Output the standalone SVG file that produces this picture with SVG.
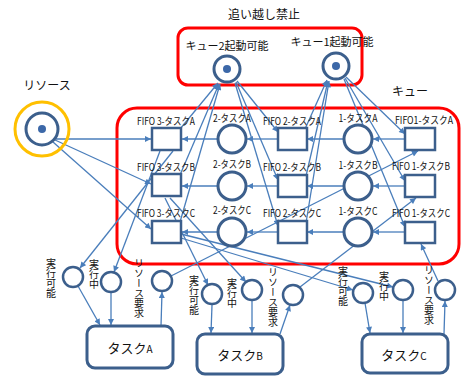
<svg xmlns="http://www.w3.org/2000/svg" width="461" height="376" viewBox="0 0 461 376">
<defs>
<marker id="ah" viewBox="0 0 10 10" refX="10" refY="5" markerWidth="7" markerHeight="6" orient="auto" markerUnits="userSpaceOnUse"><path d="M0,0 L10,5 L0,10 z" fill="#4A7EBB"/></marker>
<style>
.t{font-family:"Noto Sans CJK JP","Noto Sans",sans-serif;fill:#111;}
.lbl{font-size:10px;text-anchor:middle;}
.v{font-size:10px;writing-mode:vertical-rl;}
.box{fill:#fff;stroke:#3C5F8C;stroke-width:2.5;}
.pl{fill:#fff;stroke:#3C5F8C;stroke-width:3;}
.sp{fill:#fff;stroke:#3C5F8C;stroke-width:2.5;}
.task{fill:#fff;stroke:#3C5F8C;stroke-width:3;}
.dot{fill:#3C68A8;}
.red{fill:none;stroke:#FF0000;stroke-width:3;}
.c{fill:none;stroke:#4A7EBB;stroke-width:1.3;marker-end:url(#ah);}
.cn{fill:none;stroke:#4A7EBB;stroke-width:1.3;}
</style>
</defs>
<rect width="461" height="376" fill="#fff"/>

<g id="frames">
<rect class="red" x="178" y="28" width="184" height="57" rx="10"/>
<text class="t" x="264" y="19" font-size="12" text-anchor="middle">追い越し禁止</text>
<rect class="red" x="117" y="108" width="342" height="156" rx="20"/>
<text class="t" x="410" y="96" font-size="12" text-anchor="middle">キュー</text>
</g>

<g id="connectors">
<!-- row flows -->
<line class="c" x1="405" y1="139" x2="373" y2="139"/>
<line class="c" x1="343" y1="139" x2="307" y2="139"/>
<line class="c" x1="278" y1="139" x2="247" y2="139"/>
<line class="c" x1="217" y1="139" x2="182" y2="139"/>
<line class="c" x1="405" y1="186" x2="373" y2="186"/>
<line class="c" x1="343" y1="186" x2="307" y2="186"/>
<line class="c" x1="278" y1="186" x2="247" y2="186"/>
<line class="c" x1="217" y1="186" x2="182" y2="186"/>
<line class="c" x1="405" y1="232" x2="373" y2="232"/>
<line class="c" x1="343" y1="232" x2="307" y2="232"/>
<line class="c" x1="278" y1="232" x2="247" y2="232"/>
<line class="c" x1="217" y1="232" x2="182" y2="232"/>
<!-- resource -->
<line class="c" x1="56" y1="139" x2="151" y2="139"/>
<line class="c" x1="55" y1="140" x2="151" y2="184"/>
<line class="c" x1="53" y1="142" x2="151" y2="229"/>
<!-- queue2 -->
<line class="c" x1="180" y1="129" x2="218" y2="83"/>
<line class="c" x1="180" y1="175" x2="219" y2="84"/>
<line class="c" x1="180" y1="222" x2="220" y2="84"/>
<line class="c" x1="237" y1="81" x2="278" y2="132"/>
<line class="c" x1="236" y1="82" x2="278" y2="180"/>
<line class="c" x1="235" y1="83" x2="278" y2="226"/>
<!-- queue1 -->
<line class="c" x1="305" y1="129" x2="327" y2="80"/>
<line class="c" x1="306" y1="176" x2="328" y2="81"/>
<line class="c" x1="306" y1="223" x2="329" y2="81"/>
<line class="c" x1="346" y1="77" x2="405" y2="134"/>
<line class="c" x1="345" y1="78" x2="405" y2="181"/>
<line class="c" x1="344" y1="79" x2="405" y2="227"/>
<!-- FIFO3 to tasks -->
<line class="c" x1="173" y1="151" x2="80" y2="268"/>
<line class="c" x1="160" y1="151" x2="114" y2="272"/>
<line class="c" x1="165" y1="198" x2="208" y2="285"/>
<line class="c" x1="170" y1="198" x2="246" y2="282"/>
<line class="c" x1="181" y1="238" x2="353" y2="290"/>
<line class="c" x1="181" y1="234" x2="393" y2="287"/>
<!-- task A -->
<line class="c" x1="78" y1="286" x2="100" y2="325"/>
<line class="c" x1="111" y1="292" x2="111" y2="325"/>
<line class="c" x1="161" y1="326" x2="162" y2="292"/>
<line class="c" x1="171" y1="276" x2="418" y2="151"/>
<!-- task B -->
<line class="c" x1="212" y1="305" x2="211" y2="333"/>
<line class="c" x1="252" y1="300" x2="252" y2="333"/>
<line class="c" x1="280" y1="334" x2="290" y2="305"/>
<line class="c" x1="300" y1="287" x2="416" y2="198"/>
<!-- task C -->
<line class="c" x1="365" y1="303" x2="370" y2="333"/>
<line class="c" x1="403" y1="300" x2="403" y2="333"/>
<line class="c" x1="444" y1="334" x2="445" y2="301"/>
<line class="c" x1="438" y1="281" x2="421" y2="244"/>
</g>

<g id="queue2">
<circle class="pl" cx="227" cy="69" r="13"/>
<circle class="dot" cx="227" cy="69" r="4"/>
<text class="t" x="227" y="50" font-size="11" text-anchor="middle">キュー2起動可能</text>
</g>
<g id="queue1">
<circle class="pl" cx="336" cy="66" r="13"/>
<circle class="dot" cx="336" cy="66" r="4"/>
<text class="t" x="332" y="46" font-size="11" text-anchor="middle">キュー1起動可能</text>
</g>
<g id="resource">
<circle cx="42" cy="129" r="27" fill="none" stroke="#FFC000" stroke-width="3"/>
<circle class="pl" cx="42" cy="129" r="16"/>
<circle class="dot" cx="42" cy="129" r="4"/>
<text class="t" x="47" y="90" font-size="12" text-anchor="middle">リソース</text>
</g>

<g id="fifo3-A"><rect class="box" x="152" y="128" width="29" height="22"/><text class="t lbl" x="166" y="125" textLength="58" lengthAdjust="spacingAndGlyphs">FIFO 3-タスクA</text></g>
<g id="fifo3-B"><rect class="box" x="152" y="174" width="29" height="22"/><text class="t lbl" x="166" y="171" textLength="58" lengthAdjust="spacingAndGlyphs">FIFO 3-タスクB</text></g>
<g id="fifo3-C"><rect class="box" x="152" y="221" width="29" height="22"/><text class="t lbl" x="166" y="217" textLength="58" lengthAdjust="spacingAndGlyphs">FIFO 3-タスクC</text></g>

<g id="q2-A"><circle class="pl" cx="232" cy="139" r="14"/><text class="t lbl" x="232" y="122" textLength="38" lengthAdjust="spacingAndGlyphs">2-タスクA</text></g>
<g id="q2-B"><circle class="pl" cx="232" cy="186" r="14"/><text class="t lbl" x="232" y="168" textLength="38" lengthAdjust="spacingAndGlyphs">2-タスクB</text></g>
<g id="q2-C"><circle class="pl" cx="232" cy="232" r="14"/><text class="t lbl" x="232" y="214" textLength="38" lengthAdjust="spacingAndGlyphs">2-タスクC</text></g>

<g id="fifo2-A"><rect class="box" x="278" y="128" width="29" height="22"/><text class="t lbl" x="292" y="125" textLength="58" lengthAdjust="spacingAndGlyphs">FIFO 2-タスクA</text></g>
<g id="fifo2-B"><rect class="box" x="278" y="175" width="29" height="22"/><text class="t lbl" x="292" y="171" textLength="58" lengthAdjust="spacingAndGlyphs">FIFO 2-タスクB</text></g>
<g id="fifo2-C"><rect class="box" x="278" y="221" width="29" height="22"/><text class="t lbl" x="292" y="217" textLength="58" lengthAdjust="spacingAndGlyphs">FIFO 2-タスクC</text></g>

<g id="q1-A"><circle class="pl" cx="358" cy="139" r="14"/><text class="t lbl" x="358" y="122" textLength="39" lengthAdjust="spacingAndGlyphs">1-タスクA</text></g>
<g id="q1-B"><circle class="pl" cx="358" cy="186" r="14"/><text class="t lbl" x="358" y="169" textLength="39" lengthAdjust="spacingAndGlyphs">1-タスクB</text></g>
<g id="q1-C"><circle class="pl" cx="358" cy="232" r="14"/><text class="t lbl" x="358" y="215" textLength="39" lengthAdjust="spacingAndGlyphs">1-タスクC</text></g>

<g id="fifo1-A"><rect class="box" x="405" y="128" width="30" height="22"/><text class="t lbl" x="424" y="124" textLength="58" lengthAdjust="spacingAndGlyphs">FIFO1-タスクA</text></g>
<g id="fifo1-B"><rect class="box" x="405" y="175" width="30" height="22"/><text class="t lbl" x="421" y="170" textLength="58" lengthAdjust="spacingAndGlyphs">FIFO 1-タスクB</text></g>
<g id="fifo1-C"><rect class="box" x="405" y="222" width="30" height="21"/><text class="t lbl" x="421" y="217" textLength="58" lengthAdjust="spacingAndGlyphs">FIFO 1-タスクC</text></g>

<g id="ready-A"><circle class="sp" cx="73" cy="277" r="10"/><text class="t v" x="51" y="258">実行可能</text></g>
<g id="run-A"><circle class="sp" cx="111" cy="282" r="10"/><text class="t v" x="94" y="259">実行中</text></g>
<g id="req-A"><circle class="sp" cx="162" cy="281" r="10"/><text class="t v" x="139" y="258">リソース要求</text></g>
<g id="ready-B"><circle class="sp" cx="212" cy="294" r="10"/><text class="t v" x="194" y="275">実行可能</text></g>
<g id="run-B"><circle class="sp" cx="252" cy="290" r="10"/><text class="t v" x="232" y="278">実行中</text></g>
<g id="req-B"><circle class="sp" cx="293" cy="295" r="10"/><text class="t v" x="273" y="267">リソース要求</text></g>
<g id="ready-C"><circle class="sp" cx="363" cy="293" r="10"/><text class="t v" x="343" y="266">実行可能</text></g>
<g id="run-C"><circle class="sp" cx="403" cy="290" r="10"/><text class="t v" x="384" y="271">実行中</text></g>
<g id="req-C"><circle class="sp" cx="445" cy="290" r="10"/><text class="t v" x="429" y="265">リソース要求</text></g>

<g id="task-A"><rect class="task" x="87" y="326" width="86" height="42" rx="8"/><text class="t" x="130" y="353" font-size="13" text-anchor="middle">タスク<tspan font-size="10">A</tspan></text></g>
<g id="task-B"><rect class="task" x="197" y="334" width="86" height="40" rx="8"/><text class="t" x="240" y="360" font-size="13" text-anchor="middle">タスク<tspan font-size="10">B</tspan></text></g>
<g id="task-C"><rect class="task" x="362" y="334" width="86" height="39" rx="8"/><text class="t" x="404" y="360" font-size="13" text-anchor="middle">タスク<tspan font-size="10">C</tspan></text></g>
</svg>
